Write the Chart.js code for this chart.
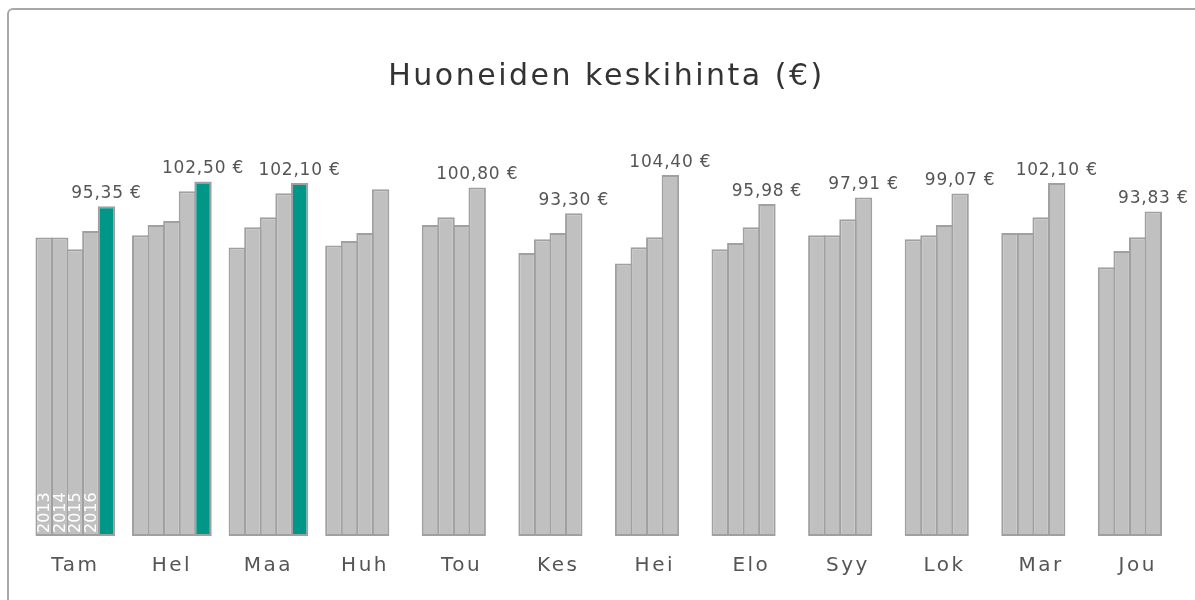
<!DOCTYPE html>
<html>
<head>
<meta charset="utf-8">
<script src="https://cdn.jsdelivr.net/npm/chart.js@4"></script>
<style>
    body { margin: 0; background: #fff; }
    #wrap { position: relative; width: 1195px; height: 600px; overflow: hidden; }
    #frame { position: absolute; left: 7px; top: 8px; width: 1260px; height: 700px;
             border: 2px solid #a8a8a8; border-radius: 6px; }
    #chart { position: absolute; left: 0; top: 0; }
</style>
</head>
<body>
<div id="wrap">
    <div id="frame"></div>
    <canvas id="chart" width="1195" height="600"></canvas>
</div>
<script>
// Months (Finnish abbreviations)
const months = ['Tam', 'Hel', 'Maa', 'Huh', 'Tou', 'Kes', 'Hei', 'Elo', 'Syy', 'Lok', 'Mar', 'Jou'];
const years = ['2013', '2014', '2015', '2016', '2017'];

// Average room price per month, by year
const price2013 = [86.3, 87.0, 83.4, 84.0, 89.9, 81.8, 78.8, 82.9, 87.0, 85.8, 87.6, 77.7];
const price2014 = [86.3, 89.9, 89.3, 85.3, 92.2, 85.8, 83.5, 84.7, 87.0, 87.0, 87.6, 82.4];
const price2015 = [82.9, 91.1, 92.2, 87.6, 89.9, 87.6, 86.4, 89.3, 91.6, 89.9, 92.2, 86.4];
const price2016 = [88.2, 99.7, 99.1, 100.3, 100.80, 93.30, 104.40, 95.98, 97.91, 99.07, 102.10, 93.83];
const price2017 = [95.35, 102.50, 102.10, null, null, null, null, null, null, null, null, null];

// Value shown above the latest bar of each month (none for Huh)
const latestLabels = [95.35, 102.50, 102.10, null, 100.80, 93.30, 104.40, 95.98, 97.91, 99.07, 102.10, 93.83];

const FONT = "'DejaVu Sans', Verdana, sans-serif";
const GRAY = '#c0c0c0';
const GRAY_BORDER = '#a0a0a0';
const TEAL = '#009688';

const series = [price2013, price2014, price2015, price2016, price2017];

function fmtEuro(v) {
    return v.toFixed(2).replace('.', ',') + ' €';
}

// wider letter spacing for title and axis labels
const spacing = {
    id: 'spacing',
    beforeDraw(chart) {
        chart.ctx.letterSpacing = '2.5px';
    }
};

// Draws the price labels above bars and the year names inside the first group
const barLabels = {
    id: 'barLabels',
    afterDatasetsDraw(chart) {
        const ctx = chart.ctx;
        ctx.save();

        // price labels
        ctx.letterSpacing = '0.8px';
        ctx.font = '17px ' + FONT;
        ctx.fillStyle = '#555';
        ctx.textAlign = 'center';
        ctx.textBaseline = 'bottom';
        latestLabels.forEach((v, i) => {
            if (v === null) return;
            let ds = -1;
            series.forEach((s, d) => { if (s[i] !== null) ds = d; });
            const bar = chart.getDatasetMeta(ds).data[i];
            ctx.fillText(fmtEuro(v), bar.x, bar.y - 4);
        });

        // year names rotated inside the first month's bars
        ctx.letterSpacing = '0px';
        ctx.font = '16px ' + FONT;
        ctx.fillStyle = '#fff';
        ctx.textAlign = 'left';
        ctx.textBaseline = 'middle';
        for (let d = 0; d < 4; d++) {
            const bar = chart.getDatasetMeta(d).data[0];
            ctx.save();
            ctx.translate(bar.x + 1, bar.base - 3);
            ctx.rotate(-Math.PI / 2);
            ctx.fillText(years[d], 0, 0);
            ctx.restore();
        }
        ctx.restore();
    }
};

new Chart(document.getElementById('chart'), {
    type: 'bar',
    data: {
        labels: months,
        datasets: series.map((s, d) => ({
            label: years[d],
            data: s,
            backgroundColor: d === 4 ? TEAL : GRAY,
            borderColor: GRAY_BORDER,
            borderWidth: 2,
            borderSkipped: false,
            categoryPercentage: 0.806,
            barPercentage: 1.12
        }))
    },
    options: {
        responsive: false,
        animation: false,
        layout: {
            padding: { left: 27, right: 9, top: 8, bottom: 4 }
        },
        plugins: {
            legend: { display: false },
            tooltip: { enabled: false },
            title: {
                display: true,
                text: 'Huoneiden keskihinta (€)',
                color: '#333',
                font: { family: FONT, size: 30, weight: 'normal' },
                padding: { top: 51, bottom: 26 }
            }
        },
        scales: {
            x: {
                grid: { display: false, drawTicks: false },
                border: { display: false },
                ticks: {
                    color: '#555',
                    padding: 18,
                    font: { family: FONT, size: 20 }
                }
            },
            y: {
                display: false,
                min: 0,
                max: 120
            }
        }
    },
    plugins: [spacing, barLabels]
});
</script>
</body>
</html>
